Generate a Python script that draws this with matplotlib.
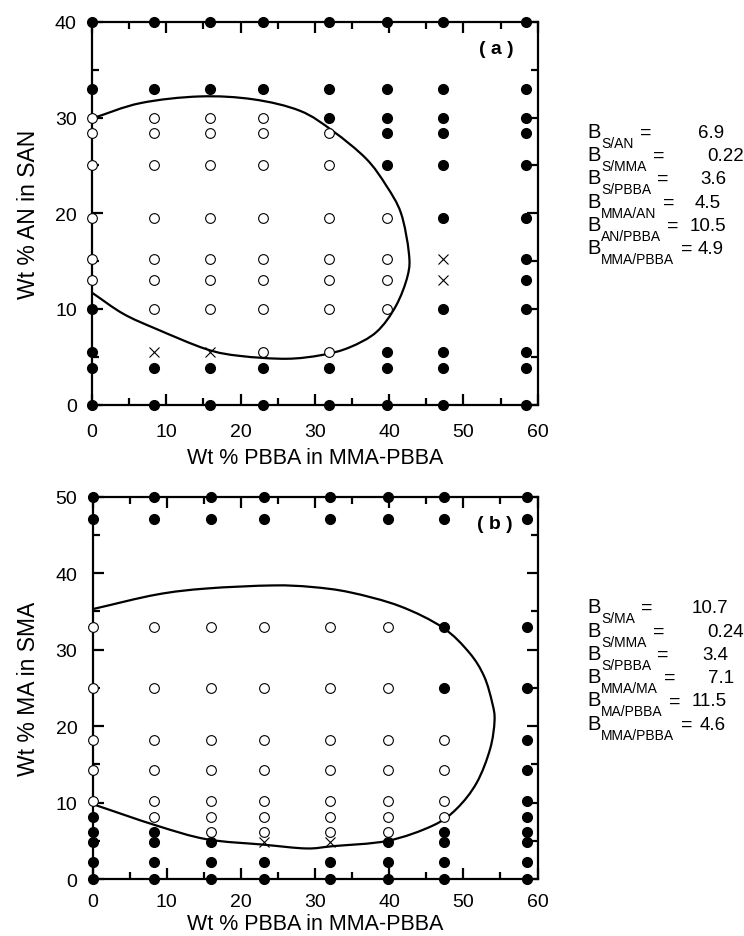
import numpy as np
import matplotlib
matplotlib.use("Agg")
import matplotlib.pyplot as plt
from matplotlib.path import Path
from matplotlib.patches import PathPatch
from matplotlib.ticker import MultipleLocator

plt.rcParams['font.family'] = ['Liberation Sans', 'DejaVu Sans']

# ---- (a) SAN / MMA-PBBA ----
a_x = [0, 8.3, 15.9, 23.0, 31.9, 39.7, 47.3, 58.4]
a_y = [0, 3.8, 5.5, 10, 13, 15.2, 19.5, 25, 28.4, 30, 33, 40]
# F = two phases, O = one phase, X = uncertain ; one string per column, y from bottom up
a_phase = ["FFFFOOOOOOFF",
           "FFXOOOOOOOFF",
           "FFXOOOOOOOFF",
           "FFOOOOOOOOFF",
           "FFOOOOOOOFFF",
           "FFFOOOOFFFFF",
           "FFFFXXFFFFFF",
           "FFFFFFFFFFFF"]
a_curve_x = [0, 6.5, 14.5, 21.7, 28.0, 32.4, 36.9, 39.6, 41.6, 42.65, 42.5, 40.9,
             38.3, 34.7, 31.0, 26.2, 19.9, 15.4, 8.7, 4.2, 0]
a_curve_y = [29.9, 31.5, 32.2, 31.9, 30.7, 28.6, 25.7, 22.9, 20.0, 15.9, 13.5, 10.3,
             7.6, 6.0, 5.2, 4.8, 5.1, 5.8, 7.9, 9.5, 11.7]
a_pairs = ["S/AN", "S/MMA", "S/PBBA", "MMA/AN", "AN/PBBA", "MMA/PBBA"]
a_vals = ["6.9", "0.22", "3.6", "4.5", "10.5", "4.9"]

# ---- (b) SMA / MMA-PBBA ----
b_x = [0, 8.3, 15.9, 23.1, 32.0, 39.8, 47.4, 58.6]
b_y = [0, 2.2, 4.8, 6.1, 8.1, 10.2, 14.2, 18.2, 25, 33, 47.1, 50]
b_phase = ["FFFFFOOOOOFF",
           "FFFFOOOOOOFF",
           "FFFOOOOOOOFF",
           "FFXOOOOOOOFF",
           "FFXOOOOOOOFF",
           "FFFOOOOOOOFF",
           "FFFFOOOOFFFF",
           "FFFFFFFFFFFF"]
b_curve_x = [0, 8.6, 15.4, 24.3, 29.5, 34.7, 41.4, 47.2, 50.8, 52.8, 53.9, 54.2,
             53.6, 51.8, 49.1, 45.9, 39.8, 32.4, 28.8, 23.0, 15.4, 8.6, 0]
b_curve_y = [35.3, 37.2, 38.0, 38.4, 38.2, 37.5, 35.7, 32.9, 29.6, 26.5, 23.0, 20.7,
             17.0, 12.6, 9.2, 7.0, 5.0, 4.3, 4.0, 4.5, 5.2, 7.0, 9.8]
b_pairs = ["S/MA", "S/MMA", "S/PBBA", "MMA/MA", "MA/PBBA", "MMA/PBBA"]
b_vals = ["10.7", "0.24", "3.4", "7.1", "11.5", "4.6"]

W, H = 744, 937


def smooth_path(xs, ys):
    # Catmull-Rom through the points, written as cubic Bezier segments
    p = np.column_stack([xs, ys]).astype(float)
    ext = np.vstack([2 * p[0] - p[1], p, 2 * p[-1] - p[-2]])
    verts = [p[0]]
    codes = [Path.MOVETO]
    for i in range(1, len(ext) - 2):
        c1 = ext[i] + (ext[i + 1] - ext[i - 1]) / 6
        c2 = ext[i + 1] - (ext[i + 2] - ext[i]) / 6
        verts += [c1, c2, ext[i + 1]]
        codes += [Path.CURVE4] * 3
    return Path(verts, codes)


def panel(ax, xs, ys, phase, cx, cy, ymax, ylabel, tag, xpad, xlpad):
    ax.set_xlim(0, 60)
    ax.set_ylim(0, ymax)
    for sp in ax.spines.values():
        sp.set_linewidth(1.6)
    ax.xaxis.set_major_locator(MultipleLocator(10))
    ax.xaxis.set_minor_locator(MultipleLocator(5))
    ax.yaxis.set_major_locator(MultipleLocator(10))
    ax.yaxis.set_minor_locator(MultipleLocator(5))
    ax.tick_params(which='both', direction='in', top=True, right=True, width=1.6)
    ax.tick_params(which='major', length=8, labelsize=14)
    ax.tick_params(which='minor', length=5)
    ax.tick_params(axis='x', which='major', pad=xpad)
    ax.tick_params(axis='y', which='major', pad=11)

    ax.add_patch(PathPatch(smooth_path(cx, cy), fill=False, lw=1.6, color='black',
                           zorder=2))

    for xv, col in zip(xs, phase):
        for yv, c in zip(ys, col):
            if c == 'F':
                ax.plot(xv, yv, 'o', ms=7, color='black', clip_on=False, zorder=5)
            elif c == 'O':
                ax.plot(xv, yv, 'o', ms=7, mfc='white', mec='black', mew=0.8,
                        clip_on=False, zorder=5)
            else:
                ax.plot(xv, yv, 'x', ms=6.5, color='black', mew=0.8,
                        clip_on=False, zorder=5)

    ax.set_xlabel('Wt % PBBA in MMA-PBBA', fontsize=15.5, labelpad=xlpad)
    ax.set_ylabel(ylabel, fontsize=16.5, labelpad=11)
    ax.text(0.945, 0.93, '( %s )' % tag, transform=ax.transAxes, ha='right',
            va='center', fontsize=14, fontweight='bold')


def bin_block(fig, pairs, vals, val_px, top_px):
    # B with a dropped subscript, "=", then the value
    r = fig.canvas.get_renderer()
    for i, (pr, v) in enumerate(zip(pairs, vals)):
        yb = top_px + i * 23.3
        t = fig.text(587 / W, 1 - yb / H, 'B', fontsize=14.5, va='baseline')
        x1 = t.get_window_extent(r).x1
        s = fig.text((x1 + 1) / W, 1 - (yb + 10) / H, pr, fontsize=10,
                     va='baseline')
        x2 = s.get_window_extent(r).x1
        e = fig.text((x2 + 6) / W, 1 - yb / H, '=', fontsize=14, va='baseline')
        x3 = e.get_window_extent(r).x1
        fig.text(max(val_px[i], x3 + 6) / W, 1 - yb / H, v, fontsize=13.5,
                 va='baseline')


fig = plt.figure(figsize=(7.44, 9.37), dpi=100)
ax_a = fig.add_axes([0.1237, 0.567, 0.599, 0.4087])
ax_b = fig.add_axes([0.1245, 0.0608, 0.598, 0.408])

panel(ax_a, a_x, a_y, a_phase, a_curve_x, a_curve_y, 40, 'Wt % AN in SAN', 'a',
      13, 5)
panel(ax_b, b_x, b_y, b_phase, b_curve_x, b_curve_y, 50, 'Wt % MA in SMA', 'b',
      10, 2)

bin_block(fig, a_pairs, a_vals, [698, 707, 700, 695, 690, 688], 137.7)
bin_block(fig, b_pairs, b_vals, [692, 707, 702, 708, 692, 700], 613.3)

fig.savefig('out.png', dpi=100)
